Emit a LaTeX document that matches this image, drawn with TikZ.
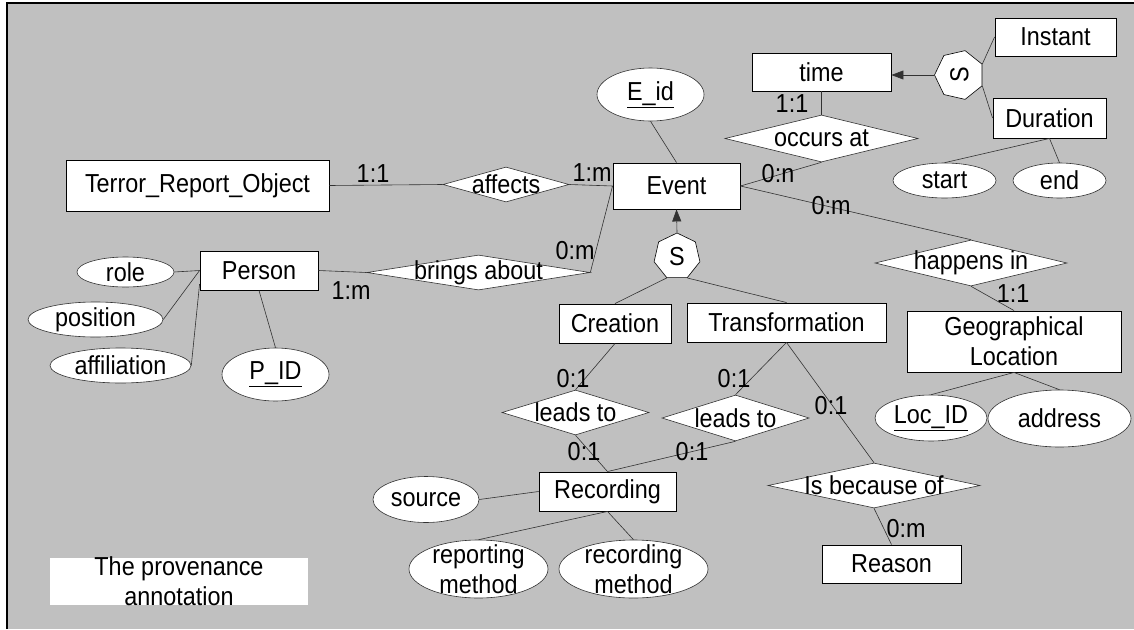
\documentclass[tikz,border=0pt]{standalone}
\usepackage{fontspec}
\setmainfont{Liberation Sans}[FakeStretch=0.9]
\usetikzlibrary{shapes.geometric,arrows.meta}

\definecolor{panel}{RGB}{192,192,192}
\definecolor{wire}{RGB}{50,50,50}

\tikzset{
  ent/.style={draw, fill=white, inner sep=0pt, line width=0.9pt},
  attr/.style={ellipse, draw=wire, fill=white, inner sep=0pt, line width=0.6pt},
  rel/.style={diamond, draw=wire, fill=white, inner sep=0pt, line width=0.6pt},
  spec/.style={regular polygon, regular polygon sides=7, draw, fill=white,
               inner sep=0pt, line width=0.6pt},
  card/.style={inner sep=0pt},
  link/.style={draw=wire, line width=0.6pt},
  isa/.style={link, -{Triangle[length=12pt,width=9pt]}},
  note/.style={fill=white, inner sep=0pt}
}

\begin{document}
\begin{tikzpicture}[x=1pt, y=-1pt, font=\fontsize{26}{30}\selectfont]
\useasboundingbox (0,0) rectangle (1134,629);
% panel
\fill[white] (0,0) rectangle (1134,629);
\fill[panel] (7,3) rectangle (1134,629);
\draw[line width=1.6pt] (7,629) -- (7,3) -- (1134,3);

% entities
\node[ent, minimum width=263pt, minimum height=51pt] (terror) at (197.5,185.5) {Terror\_Report\_Object};
\node[ent, minimum width=127pt, minimum height=46pt] (event) at (676.5,186) {Event};
\node[ent, minimum width=139pt, minimum height=38pt] (time) at (821.5,72) {time};
\node[ent, minimum width=121pt, minimum height=38pt] (instant) at (1055.5,37) {Instant};
\node[ent, minimum width=113pt, minimum height=40pt] (duration) at (1049.5,118) {Duration};
\node[ent, minimum width=118pt, minimum height=39pt] (person) at (259,270.5) {Person};
\node[ent, minimum width=112pt, minimum height=39pt] (creation) at (615,323.5) {Creation};
\node[ent, minimum width=199pt, minimum height=39pt] (transf) at (786.5,322.5) {Transformation};
\node[ent, minimum width=214pt, minimum height=61pt, align=center] (geo) at (1014,341.5) {Geographical\\Location};
\node[ent, minimum width=137pt, minimum height=39pt] (recording) at (607.5,491.5) {Recording};
\node[ent, minimum width=139pt, minimum height=38pt] (reason) at (891.5,564) {Reason};

% attributes
\node[attr, minimum width=107pt, minimum height=53pt, label=center:{\underline{E\_id}}] (eid) at (650.5,94.5) {};
\node[attr, minimum width=97pt, minimum height=30pt, label=center:{role}] (role) at (125.5,272) {};
\node[attr, minimum width=135pt, minimum height=35pt, label=center:{position}] (position) at (95.5,319.5) {};
\node[attr, minimum width=141pt, minimum height=35pt, label=center:{affiliation}] (affil) at (120.5,365.5) {};
\node[attr, minimum width=107pt, minimum height=53pt, label=center:{\underline{P\_ID}}] (pid) at (275.5,374.5) {};
\node[attr, minimum width=103pt, minimum height=35pt, label=center:{start}] (start) at (944.5,180.5) {};
\node[attr, minimum width=93pt, minimum height=35pt, label=center:{end}] (end) at (1059.5,180.5) {};
\node[attr, minimum width=112pt, minimum height=46pt, label=center:{\underline{Loc\_ID}}] (locid) at (931,418) {};
\node[attr, minimum width=143pt, minimum height=57pt, label=center:{address}] (address) at (1059.5,418.5) {};
\node[attr, minimum width=106pt, minimum height=46pt, label=center:{source}] (source) at (426,499.5) {};
\node[attr, minimum width=139pt, minimum height=58pt, label={[align=center]center:reporting\\method}] (repmeth) at (478.5,569) {};
\node[attr, minimum width=149pt, minimum height=58pt, label={[align=center]center:recording\\method}] (recmeth) at (633.5,569) {};

% relationships
\node[rel, minimum width=126pt, minimum height=35pt, label=center:{affects}] (affects) at (506,184.5) {};
\node[rel, minimum width=223pt, minimum height=35pt, label=center:{brings about}] (brings) at (478.5,272.5) {};
\node[rel, minimum width=193pt, minimum height=47pt, label=center:{occurs at}] (occurs) at (821.5,138.5) {};
\node[rel, minimum width=192pt, minimum height=46pt, label=center:{happens in}] (happens) at (971,263) {};
\node[rel, minimum width=147pt, minimum height=45pt, label=center:{leads to}] (leadsa) at (575.5,412.5) {};
\node[rel, minimum width=147pt, minimum height=46pt, label=center:{leads to}] (leadsb) at (735.5,418) {};
\node[rel, minimum width=212pt, minimum height=45pt, label=center:{Is because of}] (because) at (874,485.5) {};

% specialisation markers
\node[spec, minimum size=47pt] (sevent) at (677,256.5) {S};
\node[spec, minimum size=50pt, rotate=90] (stime) at (959.5,75) {S};

% provenance note
\node[note, minimum width=258pt, minimum height=47pt,
      label={[align=center]center:The provenance\\annotation}] (prov) at (179,581.5) {};

% connectors
\draw[link] (terror.east) -- (affects.west);
\draw[link] (affects.east) -- (event.west);
\draw[link] (event.west) -- (brings.east);
\draw[link] (person.east) -- (brings.west);
\draw[link] (role.east) -- (person.west);
\draw[link] (position.east) -- (person.west);
\draw[link] (affil.east) -- (person.193);
\draw[link] (pid.north) -- (person.south);
\draw[link] (eid.south) -- (event.north);
\draw[isa] (sevent.corner 1) -- (event.south);
\draw[link] (sevent.corner 4) -- (creation.north);
\draw[link] (sevent.corner 5) -- (transf.north);
\draw[link] (time.south) -- (occurs.north);
\draw[link] (occurs.south) -- (event.east);
\draw[link] (event.east) -- (happens.north);
\draw[link] (happens.south) -- (geo.north);
\draw[isa] (stime.corner 1) -- (stime.corner 1 -| time.east);
\draw[link] (stime.corner 5) -- (instant.west);
\draw[link] (stime.corner 4) -- (duration.west);
\draw[link] (duration.south) -- (start.north);
\draw[link] (duration.south) -- (end.north);
\draw[link] (geo.south) -- (locid.north);
\draw[link] (geo.south) -- (address.north);
\draw[link] (creation.south) -- (leadsa.north);
\draw[link] (leadsa.south) -- (recording.north);
\draw[link] (transf.south) -- (leadsb.north);
\draw[link] (leadsb.south) -- (recording.north);
\draw[link] (transf.south) -- (because.north);
\draw[link] (because.south) -- (reason.north);
\draw[link] (source.east) -- (recording.west);
\draw[link] (recording.south) -- (repmeth.north);
\draw[link] (recording.south) -- (recmeth.north);

% cardinalities
\node[card] (c1) at (373,174) {1:1};
\node[card] (c2) at (592,172.5) {1:m};
\node[card] (c3) at (575,251) {0:m};
\node[card] (c4) at (351,290.5) {1:m};
\node[card] (c5) at (792,104) {1:1};
\node[card] (c6) at (778,173.5) {0:n};
\node[card] (c7) at (831,206) {0:m};
\node[card] (c8) at (1013,294) {1:1};
\node[card] (c9) at (573,379) {0:1};
\node[card] (c10) at (734,379) {0:1};
\node[card] (c11) at (831,406) {0:1};
\node[card] (c12) at (584,452) {0:1};
\node[card] (c13) at (692,452) {0:1};
\node[card] (c14) at (906,529) {0:m};
\end{tikzpicture}
\end{document}
